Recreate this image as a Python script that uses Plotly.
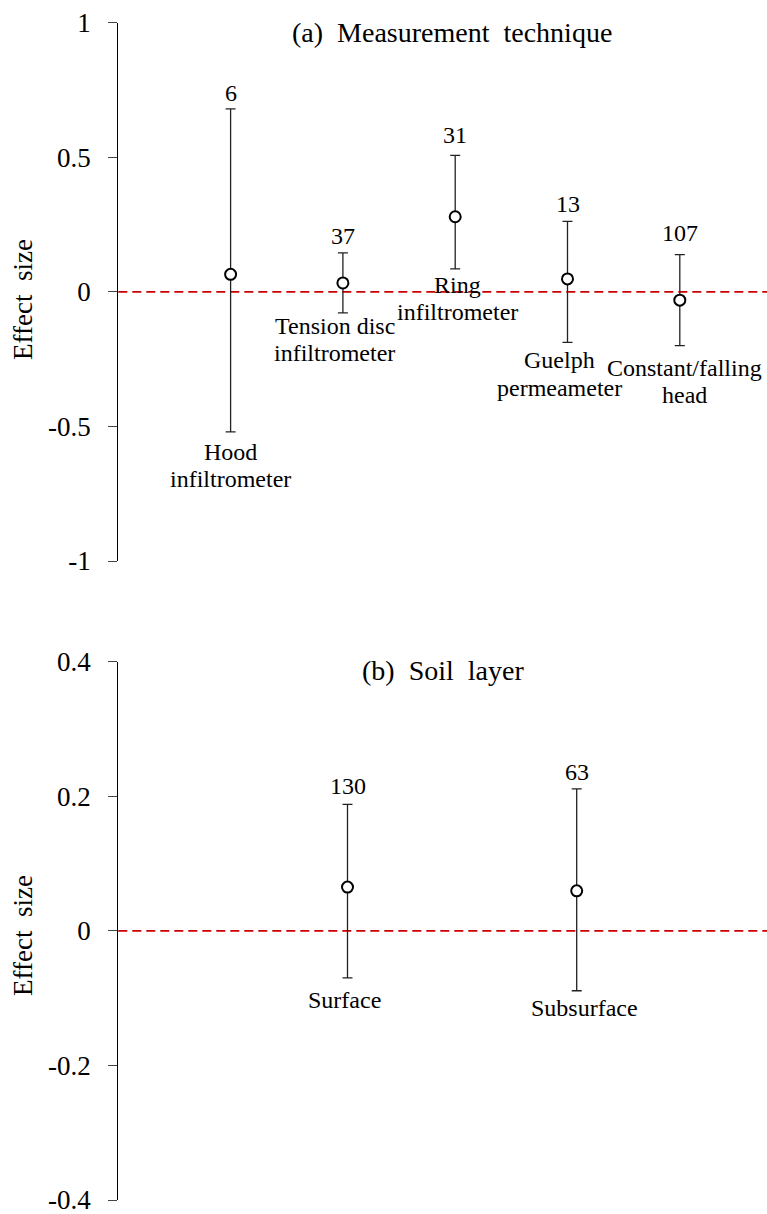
import plotly.graph_objects as go

# ---------------- data ----------------
tech_labels = [["Hood", "infiltrometer"], ["Tension disc", "infiltrometer"], ["Ring", "infiltrometer"],
               ["Guelph", "permeameter"], ["Constant/falling", "head"]]
tech_mean = [0.065, 0.033, 0.279, 0.048, -0.031]
tech_upper = [0.680, 0.145, 0.507, 0.262, 0.138]
tech_lower = [-0.520, -0.078, 0.085, -0.188, -0.200]
tech_n = [6, 37, 31, 13, 107]

layer_labels = [["Surface"], ["Subsurface"]]
layer_mean = [0.065, 0.0595]
layer_upper = [0.188, 0.211]
layer_lower = [-0.070, -0.089]
layer_n = [130, 63]

top_ticks = [-1, -0.5, 0, 0.5, 1]
top_ticktext = ["-1", "-0.5", "0", "0.5", "1"]
bot_ticks = [-0.4, -0.2, 0, 0.2, 0.4]
bot_ticktext = ["-0.4", "-0.2", "0", "0.2", "0.4"]

# ---------------- styles / label offsets (px) ----------------
W, H = 767, 1214
FONT = "Liberation Serif"
tech_cat_dx = [0, -8, 2, -8, 5]
tech_cat_dy = [20, 13, 16, 18, 22]
tech_n_dy = [16, 17, 20, 17, 22]
layer_cat_dx = [-3, 8]
layer_cat_dy = [22, 17]
layer_n_dy = [18, 17]
LINE_GAP = 27.5

fig = go.Figure()


def add_panel(xref, yref, mean, upper, lower):
    xs = list(range(1, len(mean) + 1))
    fig.add_trace(go.Scatter(
        x=xs, y=mean, mode="markers", xaxis=xref, yaxis=yref, showlegend=False,
        marker=dict(symbol="circle", size=11, color="white", line=dict(color="black", width=2)),
        error_y=dict(type="data", symmetric=False,
                     array=[u - m for u, m in zip(upper, mean)],
                     arrayminus=[m - l for m, l in zip(mean, lower)],
                     color="#222222", thickness=1.3, width=5),
    ))


add_panel("x", "y", tech_mean, tech_upper, tech_lower)
add_panel("x2", "y2", layer_mean, layer_upper, layer_lower)

for xr, yr in [("x", "y"), ("x2", "y2")]:
    fig.add_shape(type="line", xref=f"{xr} domain", yref=yr, x0=0, x1=1, y0=0, y1=0,
                  line=dict(color="#cc0000", width=1.6, dash="9px,5px"), layer="below")

ann = []


def add_labels(xr, yr, labels, upper, lower, n, cat_dx, cat_dy, n_dy):
    for i, (lab, u, l, k) in enumerate(zip(labels, upper, lower, n)):
        x = i + 1
        ann.append(dict(x=x, y=u, xref=xr, yref=yr, text=str(k), showarrow=False,
                        yanchor="middle", xanchor="center", yshift=n_dy[i],
                        font=dict(family=FONT, size=24, color="black")))
        for j, line in enumerate(lab):
            ann.append(dict(x=x, y=l, xref=xr, yref=yr, text=line, showarrow=False,
                            yanchor="middle", xanchor="center", xshift=cat_dx[i],
                            yshift=-(cat_dy[i] + j * LINE_GAP),
                            font=dict(family=FONT, size=24, color="black")))


add_labels("x", "y", tech_labels, tech_upper, tech_lower, tech_n, tech_cat_dx, tech_cat_dy, tech_n_dy)
add_labels("x2", "y2", layer_labels, layer_upper, layer_lower, layer_n, layer_cat_dx, layer_cat_dy, layer_n_dy)

# panel titles and y titles
ann.append(dict(x=451.5 / W, y=1 - 33 / H, xref="paper", yref="paper", showarrow=False,
                text="(a)\u2002Measurement\u2002technique", xanchor="center", yanchor="middle",
                font=dict(family=FONT, size=28, color="black")))
ann.append(dict(x=443 / W, y=1 - 670 / H, xref="paper", yref="paper", showarrow=False,
                text="(b)\u2002Soil\u2002layer", xanchor="center", yanchor="middle",
                font=dict(family=FONT, size=28, color="black")))
for yc in [300, 936]:
    ann.append(dict(x=23 / W, y=1 - yc / H, xref="paper", yref="paper", showarrow=False,
                    text="Effect\u2002size", textangle=-90, xanchor="center", yanchor="middle",
                    font=dict(family=FONT, size=27, color="black")))

x_dom = [118.3 / W, 1.0]
yaxis_common = dict(showline=True, linecolor="black", linewidth=1.2, ticks="outside", ticklen=9,
                    tickcolor="#444444", tickwidth=1.2, showgrid=False, zeroline=False,
                    automargin=False, ticklabeloverflow="allow",
                    tickfont=dict(family=FONT, size=27, color="black"), ticklabelstandoff=12)

fig.update_layout(
    width=W, height=H, margin=dict(l=0, r=0, t=0, b=0, pad=0, autoexpand=False),
    paper_bgcolor="white", plot_bgcolor="white",
    xaxis=dict(domain=x_dom, range=[0, (W - 118.3) / 112.3], visible=False, anchor="y",
               automargin=False),
    yaxis=dict(domain=[1 - 561 / H, 1 - 22.7 / H], range=[-1, 1], tickvals=top_ticks,
               ticktext=top_ticktext, anchor="x", **yaxis_common),
    xaxis2=dict(domain=x_dom, range=[0, (W - 118.3) / 229.2], visible=False, anchor="y2",
                automargin=False),
    yaxis2=dict(domain=[1 - 1200 / H, 1 - 661.7 / H], range=[-0.4, 0.4], tickvals=bot_ticks,
                ticktext=bot_ticktext, anchor="x2", **yaxis_common),
    annotations=ann,
    showlegend=False,
)

fig.write_html("out.html", config={"displayModeBar": False},
               post_script="document.body.style.margin='0';document.body.style.overflow='hidden';")
